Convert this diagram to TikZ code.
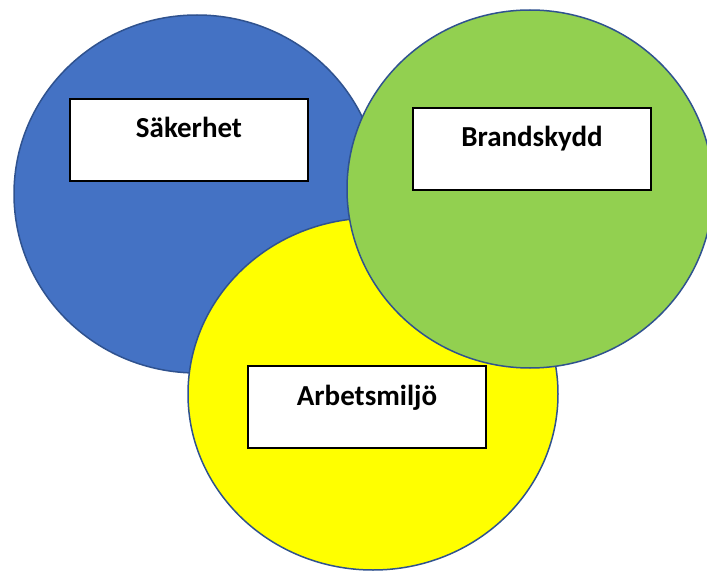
\documentclass[tikz,border=0pt]{standalone}
\usepackage{fontspec}
\setmainfont{Carlito}
\definecolor{ringblue}{HTML}{4472C4}
\definecolor{ringgreen}{HTML}{92D050}
\definecolor{ringyellow}{HTML}{FFFF00}
\definecolor{ringline}{HTML}{2F528F}
\tikzset{
  ring/.style={draw=ringline, line width=1.5pt},
  labelbox/.style={draw=black, line width=2pt, fill=white, inner sep=0pt,
    text width=238pt, align=center, text height=39pt, text depth=43pt,
    font=\fontsize{29}{34}\selectfont\bfseries}
}
\begin{document}
\begin{tikzpicture}[x=1pt, y=-1pt]
  \useasboundingbox (0,0) rectangle (707,572);
  \draw[ring, fill=ringblue] (197,194) ellipse [x radius=183pt, y radius=179pt];
  \draw[ring, fill=ringyellow] (373,394) ellipse [x radius=185pt, y radius=176pt];
  \draw[ring, fill=ringgreen] (530,189) ellipse [x radius=183pt, y radius=179pt];
  \node[labelbox, anchor=north] (sakerhet) at (189,98) {Säkerhet};
  \node[labelbox, anchor=north] (brand) at (532,107) {Brandskydd};
  \node[labelbox, anchor=north] (arbete) at (367,365) {Arbetsmiljö};
\end{tikzpicture}
\end{document}
